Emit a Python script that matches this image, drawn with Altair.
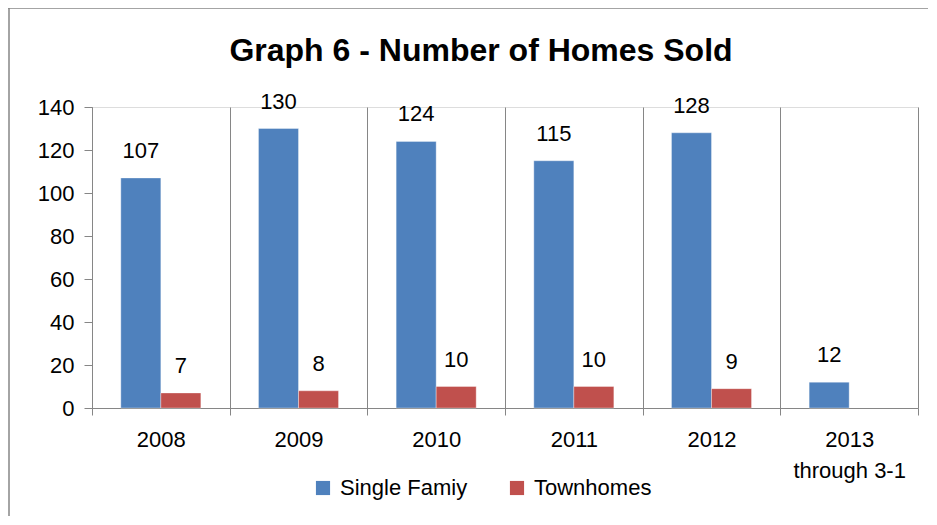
import altair as alt
import pandas as pd

years = ["2008", "2009", "2010", "2011", "2012", "2013"]
single_family = [107, 130, 124, 115, 128, 12]
townhomes = [7, 8, 10, 10, 9, None]
series_names = ["Single Famiy", "Townhomes"]
colors = ["#4F81BD", "#C0504D"]

rows = []
for y, s, t in zip(years, single_family, townhomes):
    rows.append({"year": y, "series": series_names[0], "value": s})
    if t is not None:
        rows.append({"year": y, "series": series_names[1], "value": t})
df = pd.DataFrame(rows)

FONT = "Liberation Sans"
W, H = 826, 301

x_enc = alt.X("year:N", sort=years,
              scale=alt.Scale(paddingInner=0, paddingOuter=0),
              axis=alt.Axis(title=None, tickBand="extent", grid=True, gridColor="#868686",
                            domainColor="#868686", tickColor="#868686", tickSize=7,
                            labelPadding=14, labelFontSize=22, labelColor="#000000",
                            labelFont=FONT, labelAngle=0, labelLineHeight=31,
                            labelExpr="datum.value == '2013' ? ['2013', 'through 3-1'] : datum.label"))
xoff = alt.XOffset("series:N", sort=series_names,
                   scale=alt.Scale(paddingInner=0, paddingOuter=0.72))
y_enc = alt.Y("value:Q", scale=alt.Scale(domain=[0, 140], nice=False),
              axis=alt.Axis(title=None, values=list(range(0, 141, 20)), grid=False,
                            domainColor="#868686", tickColor="#868686", tickSize=8,
                            labelPadding=10, labelFontSize=22, labelColor="#000000",
                            labelFont=FONT))

base = alt.Chart(df).encode(x=x_enc, xOffset=xoff, y=y_enc)

bars = base.mark_bar(stroke="#ffffff", strokeOpacity=0.35, strokeWidth=1).encode(
    color=alt.Color("series:N", sort=series_names,
                    scale=alt.Scale(domain=series_names, range=colors),
                    legend=alt.Legend(title=None, orient="none", direction="horizontal",
                                      legendX=220, legendY=370, symbolType="square",
                                      symbolSize=200, symbolStrokeWidth=0,
                                      labelFontSize=22, labelFont=FONT, labelColor="#000000",
                                      columnPadding=38, labelOffset=6))
)

labels = base.mark_text(dy=-27, fontSize=22, font=FONT, color="#000000").encode(
    text=alt.Text("value:Q")
)

title_df = pd.DataFrame({"t": ["Graph 6 - Number of Homes Sold"]})
title = alt.Chart(title_df).mark_text(
    font=FONT, fontSize=32, fontWeight="bold", color="#000000", align="center", baseline="middle"
).encode(text="t:N", x=alt.value(389), y=alt.value(-56))

one = pd.DataFrame({"a": [0]})
border_top = alt.Chart(one).mark_rule(color="#868686", strokeWidth=1.5, clip=False).encode(
    x=alt.value(-84), x2=alt.value(860), y=alt.value(-99))
border_left = alt.Chart(one).mark_rule(color="#868686", strokeWidth=1.5, clip=False).encode(
    x=alt.value(-83), y=alt.value(-99), y2=alt.value(460))

chart = alt.layer(border_top, border_left, bars, labels, title).properties(
    width=W, height=H,
    autosize=alt.AutoSizeParams(type="none"),
    padding={"left": 84, "top": 99, "right": 10, "bottom": 108},
).configure_view(stroke=None).configure(background="#ffffff")

chart.save("out.html", embed_options={"renderer": "svg", "actions": False})
